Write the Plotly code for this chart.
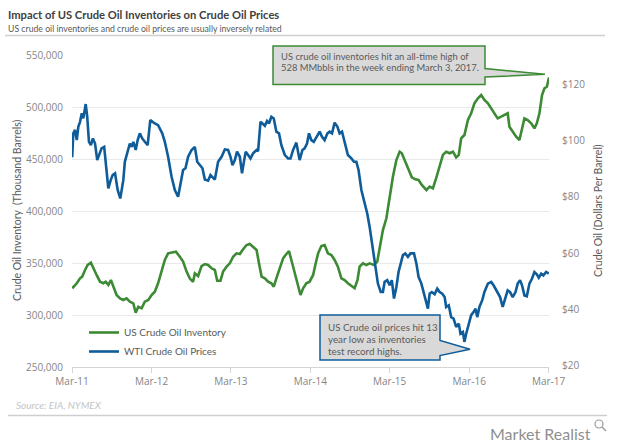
import plotly.graph_objects as go

# ---------------- data ----------------
inv_dates = [
    "2011-03-02", "2011-03-23", "2011-04-07", "2011-04-17", "2011-04-30", "2011-05-12", "2011-05-27",
    "2011-06-07", "2011-06-22", "2011-07-08", "2011-07-23", "2011-08-03", "2011-08-15", "2011-08-27",
    "2011-09-07", "2011-09-22", "2011-10-08", "2011-10-23", "2011-11-07", "2011-11-22", "2011-12-08",
    "2011-12-19", "2011-12-31", "2012-01-15", "2012-01-30", "2012-02-15", "2012-03-01", "2012-03-16",
    "2012-03-31", "2012-04-16", "2012-05-01", "2012-05-16", "2012-06-01", "2012-06-21", "2012-07-09",
    "2012-07-24", "2012-08-09", "2012-08-24", "2012-09-08", "2012-09-16", "2012-10-01", "2012-10-17",
    "2012-11-01", "2012-11-16", "2012-12-02", "2012-12-17", "2012-12-28", "2013-01-12", "2013-01-24",
    "2013-02-09", "2013-02-24", "2013-03-11", "2013-03-27", "2013-04-11", "2013-04-26", "2013-05-12",
    "2013-05-27", "2013-06-11", "2013-06-27", "2013-07-08", "2013-07-20", "2013-08-04", "2013-08-19",
    "2013-09-03", "2013-09-14", "2013-09-26", "2013-10-12", "2013-10-27", "2013-11-11", "2013-11-23",
    "2013-12-04", "2013-12-19", "2014-01-04", "2014-01-15", "2014-01-27", "2014-02-11", "2014-02-26",
    "2014-03-14", "2014-03-26", "2014-04-06", "2014-04-21", "2014-05-06", "2014-05-21", "2014-06-06",
    "2014-06-21", "2014-07-06", "2014-07-22", "2014-08-06", "2014-08-21", "2014-09-06", "2014-09-21",
    "2014-10-04", "2014-10-14", "2014-10-29", "2014-11-14", "2014-11-29", "2014-12-19", "2015-01-03",
    "2015-01-14", "2015-01-29", "2015-02-14", "2015-03-01", "2015-03-16", "2015-04-01", "2015-04-16",
    "2015-04-26", "2015-05-12", "2015-05-27", "2015-06-11", "2015-06-27", "2015-07-12", "2015-07-27",
    "2015-08-17", "2015-09-01", "2015-09-16", "2015-10-01", "2015-10-17", "2015-11-01", "2015-11-16",
    "2015-12-02", "2015-12-17", "2016-01-01", "2016-01-13", "2016-01-24", "2016-02-08", "2016-02-24",
    "2016-03-10", "2016-03-25", "2016-04-10", "2016-04-25", "2016-05-10", "2016-05-26", "2016-06-10",
    "2016-06-25", "2016-07-10", "2016-07-26", "2016-08-10", "2016-08-25", "2016-09-02", "2016-09-17",
    "2016-10-03", "2016-10-18", "2016-10-31", "2016-11-10", "2016-11-25", "2016-12-11", "2016-12-26",
    "2017-01-06", "2017-01-18", "2017-01-30", "2017-02-10", "2017-02-21", "2017-03-03",
]
inv_values = [
    325700, 330500, 335300, 336900, 343300, 348100, 350300,
    344900, 338500, 332000, 330500, 332000, 328900, 333600,
    327200, 319200, 316000, 314400, 316000, 312800, 311200,
    302200, 308000, 306400, 312800, 314400, 319200, 322400,
    330500, 341700, 352900, 359300, 360300, 360900, 356000,
    351300, 341700, 335000, 332000, 340100, 337500, 347100,
    349000, 348100, 344900, 343300, 333000, 333000, 341700,
    346500, 349700, 356000, 359300, 358700, 363200, 367300,
    368300, 365700, 362500, 349700, 336900, 335300, 332000,
    330500, 327200, 335300, 346500, 354500, 358700, 361500,
    352900, 340100, 327200, 319200, 325700, 330500, 332000,
    338500, 349700, 359300, 366300, 367300, 359300, 357700,
    352900, 346500, 335300, 333600, 330500, 327900, 325700,
    333600, 346500, 349700, 348100, 349700, 348100, 351300,
    365700, 381700, 393000, 413800, 433000, 449000, 457000,
    455500, 447400, 441000, 432400, 430500, 429800, 425000,
    420200, 423400, 421800, 431500, 442000, 453900, 457000,
    455500, 457000, 451600, 453900, 469900, 473100, 487500,
    493900, 503600, 508400, 511500, 506700, 503600, 498700,
    493900, 489100, 490700, 492300, 493900, 481100, 476300,
    471400, 468300, 479500, 489100, 487500, 484300, 479500,
    484300, 493900, 511500, 518000, 519500, 528400,
]

wti_dates = [
    "2011-03-02", "2011-03-07", "2011-03-15", "2011-03-23", "2011-03-30", "2011-04-07", "2011-04-15",
    "2011-04-22", "2011-05-03", "2011-05-10", "2011-05-18", "2011-05-27", "2011-06-05", "2011-06-15",
    "2011-06-25", "2011-07-04", "2011-07-15", "2011-07-27", "2011-08-07", "2011-08-15", "2011-08-26",
    "2011-09-04", "2011-09-15", "2011-09-27", "2011-10-09", "2011-10-23", "2011-10-30", "2011-11-12",
    "2011-11-22", "2011-11-30", "2011-12-08", "2011-12-19", "2011-12-28", "2012-01-07", "2012-01-18",
    "2012-01-30", "2012-02-12", "2012-02-24", "2012-03-04", "2012-03-16", "2012-03-31", "2012-04-11",
    "2012-04-19", "2012-05-01", "2012-05-16", "2012-06-01", "2012-06-16", "2012-07-01", "2012-07-14",
    "2012-07-24", "2012-08-04", "2012-08-16", "2012-09-01", "2012-09-16", "2012-09-27", "2012-10-09",
    "2012-10-21", "2012-11-01", "2012-11-16", "2012-11-27", "2012-12-09", "2012-12-17", "2013-01-01",
    "2013-01-17", "2013-02-01", "2013-02-16", "2013-02-27", "2013-03-08", "2013-03-19", "2013-03-29",
    "2013-04-11", "2013-04-21", "2013-05-01", "2013-05-08", "2013-05-19", "2013-05-30", "2013-06-11",
    "2013-06-27", "2013-07-04", "2013-07-15", "2013-07-24", "2013-08-04", "2013-08-14", "2013-08-23",
    "2013-09-03", "2013-09-14", "2013-09-26", "2013-10-08", "2013-10-19", "2013-11-04", "2013-11-19",
    "2013-11-30", "2013-12-12", "2013-12-27", "2014-01-11", "2014-01-24", "2014-02-03", "2014-02-14",
    "2014-02-23", "2014-03-06", "2014-03-17", "2014-03-29", "2014-04-13", "2014-04-24", "2014-05-06",
    "2014-05-19", "2014-05-29", "2014-06-09", "2014-06-21", "2014-07-04", "2014-07-14", "2014-07-25",
    "2014-08-06", "2014-08-21", "2014-09-06", "2014-09-18", "2014-09-29", "2014-10-09", "2014-10-22",
    "2014-11-06", "2014-11-18", "2014-11-29", "2014-12-10", "2014-12-19", "2014-12-30", "2015-01-06",
    "2015-01-19", "2015-01-29", "2015-02-06", "2015-02-18", "2015-03-01", "2015-03-11", "2015-03-21",
    "2015-04-01", "2015-04-11", "2015-04-20", "2015-05-01", "2015-05-12", "2015-05-24", "2015-06-05",
    "2015-06-21", "2015-07-02", "2015-07-12", "2015-07-25", "2015-08-09", "2015-08-24", "2015-09-01",
    "2015-09-11", "2015-09-24", "2015-10-06", "2015-10-17", "2015-10-29", "2015-11-09", "2015-11-16",
    "2015-11-28", "2015-12-09", "2015-12-20", "2016-01-01", "2016-01-13", "2016-01-21", "2016-02-01",
    "2016-02-08", "2016-02-16", "2016-02-28", "2016-03-10", "2016-03-21", "2016-03-30", "2016-04-07",
    "2016-04-17", "2016-04-30", "2016-05-10", "2016-05-26", "2016-06-10", "2016-06-21", "2016-06-30",
    "2016-07-11", "2016-07-21", "2016-08-02", "2016-08-15", "2016-08-25", "2016-09-05", "2016-09-17",
    "2016-09-30", "2016-10-10", "2016-10-21", "2016-10-30", "2016-11-10", "2016-11-21", "2016-12-03",
    "2016-12-15", "2016-12-26", "2017-01-06", "2017-01-15", "2017-01-26", "2017-02-05", "2017-02-18",
    "2017-03-02",
]
wti_values = [
    94.0, 102.5, 103.7, 100.1, 104.8, 106.6, 109.6,
    107.8, 112.9, 108.4, 99.5, 98.3, 100.7, 98.9,
    93.0, 94.8, 97.2, 97.7, 89.5, 83.0, 85.9,
    87.7, 88.3, 82.4, 79.4, 85.9, 92.4, 96.6,
    98.9, 97.7, 99.5, 96.6, 100.1, 102.5, 100.7,
    99.5, 98.3, 107.2, 106.6, 106.0, 105.4, 103.7,
    102.5, 99.5, 94.2, 87.1, 82.4, 80.0, 85.9,
    89.5, 90.1, 94.2, 96.6, 97.7, 92.4, 91.2,
    90.1, 86.1, 85.7, 87.7, 86.9, 86.1, 92.4,
    94.2, 96.8, 96.6, 94.2, 91.2, 93.0, 96.0,
    94.2, 88.3, 93.0, 96.0, 94.8, 93.6, 95.4,
    96.6, 96.2, 106.6, 106.0, 105.2, 106.9, 106.0,
    108.4, 107.8, 103.1, 102.5, 98.3, 94.8, 93.6,
    93.6, 96.6, 99.2, 93.0, 96.6, 97.2, 98.9,
    102.5, 100.1, 99.5, 101.3, 103.1, 101.3, 100.1,
    102.5, 103.1, 102.5, 106.3, 104.8, 102.5, 103.1,
    98.9, 94.8, 93.6, 92.4, 92.4, 89.5, 82.4,
    77.6, 74.1, 69.3, 63.4, 58.7, 53.9, 49.2,
    46.2, 46.2, 49.8, 50.4, 48.6, 50.4, 43.9,
    48.0, 53.3, 56.3, 59.3, 59.9, 58.7, 59.9,
    59.9, 56.3, 51.6, 49.2, 44.4, 40.3, 45.6,
    46.2, 45.4, 47.4, 46.2, 45.6, 44.4, 40.9,
    41.5, 37.3, 36.8, 33.8, 35.0, 31.4, 32.0,
    28.5, 31.4, 35.0, 38.0, 39.1, 40.3, 37.3,
    40.9, 43.3, 46.2, 49.2, 49.8, 48.6, 47.4,
    45.6, 44.4, 40.9, 44.4, 46.8, 46.2, 44.4,
    46.2, 49.2, 50.4, 48.6, 45.0, 44.7, 49.2,
    51.0, 53.3, 52.5, 51.3, 52.7, 52.1, 53.3,
    52.7,
]

x_tick_dates = ["2011-03-01", "2012-03-01", "2013-03-01", "2014-03-01",
                "2015-03-01", "2016-03-01", "2017-03-01"]
x_tick_labels = ["Mar-11", "Mar-12", "Mar-13", "Mar-14", "Mar-15", "Mar-16", "Mar-17"]
inv_ticks = [250000, 300000, 350000, 400000, 450000, 500000, 550000]
price_ticks = [20, 40, 60, 80, 100, 120]
price_labels = ["$20", "$40", "$60", "$80", "$100", "$120"]

# ---------------- style ----------------
GREEN = "#3c8a34"
BLUE = "#0e5c9a"
FONT = "Lato, Open Sans, sans-serif"
TICKFONT = "Open Sans, Lato, sans-serif"
TICK_GRAY = "#858585"
TEXT_GRAY = "#595959"

W, H = 620, 445
L, R, T, B = 72, 71, 55, 78
PW, PH = W - L - R, H - T - B


def px(xp):
    return (xp - L) / PW


def py(yp):
    return (H - B - yp) / PH


fig = go.Figure()
fig.add_trace(go.Scatter(x=inv_dates, y=inv_values, name="US Crude Oil Inventory",
                         mode="lines", line=dict(color=GREEN, width=2.6), yaxis="y"))
fig.add_trace(go.Scatter(x=wti_dates, y=wti_values, name="WTI Crude Oil Prices",
                         mode="lines", line=dict(color=BLUE, width=2.6), yaxis="y2"))

fig.update_layout(
    width=W, height=H,
    margin=dict(l=L, r=R, t=T, b=B),
    paper_bgcolor="white", plot_bgcolor="white",
    font=dict(family=FONT, color=TEXT_GRAY, size=11),
    showlegend=True,
    legend=dict(x=px(84), y=py(318), xanchor="left", yanchor="top",
                bgcolor="rgba(0,0,0,0)", font=dict(size=10, color=TEXT_GRAY, family=FONT),
                itemwidth=30, tracegroupgap=0),
    xaxis=dict(type="date", range=["2011-03-01", "2017-03-03"],
               tickvals=x_tick_dates, ticktext=x_tick_labels,
               showgrid=False, zeroline=False,
               showline=True, linecolor="#d4d4d4", linewidth=1,
               ticks="outside", ticklen=5, tickcolor="#d4d4d4",
               tickfont=dict(size=10, color=TICK_GRAY, family=TICKFONT)),
    yaxis=dict(range=[250000, 550000], tickvals=inv_ticks, tickformat=",",
               showgrid=True, gridcolor="#e9e9e9", gridwidth=1,
               zeroline=False, showline=False, ticks="",
               ticklabelstandoff=8,
               tickfont=dict(size=10, color=TICK_GRAY, family=TICKFONT)),
    yaxis2=dict(range=[19.6, 130.3], tickvals=price_ticks, ticktext=price_labels,
                overlaying="y", side="right", showgrid=False, zeroline=False,
                showline=False, ticks="", ticklabelstandoff=12,
                tickfont=dict(size=10, color=TICK_GRAY, family=TICKFONT)),
)

shapes = []
# header and footer rules
shapes.append(dict(type="line", xref="paper", yref="paper", x0=px(5), x1=px(605),
                   y0=py(35.5), y1=py(35.5), line=dict(color="#cfcfcf", width=1.5)))
shapes.append(dict(type="line", xref="paper", yref="paper", x0=px(8), x1=px(607),
                   y0=py(415.5), y1=py(415.5), line=dict(color="#cfcfcf", width=1.5)))
# callout 1 (inventory high)
c1 = [(273, 46), (485, 46), (485, 68.5), (545, 74.3), (485, 77), (485, 84.5), (273, 84.5)]
shapes.append(dict(type="path", xref="paper", yref="paper", layer="above",
                   path="M " + " L ".join(f"{px(a):.4f},{py(b):.4f}" for a, b in c1) + " Z",
                   fillcolor="#d9d9d9", line=dict(color=GREEN, width=1.5)))
# callout 2 (price low)
c2 = [(320, 315), (440, 315), (440, 340.5), (470, 349.3), (440, 355.5), (440, 360), (320, 360)]
shapes.append(dict(type="path", xref="paper", yref="paper", layer="above",
                   path="M " + " L ".join(f"{px(a):.4f},{py(b):.4f}" for a, b in c2) + " Z",
                   fillcolor="#d9d9d9", line=dict(color=BLUE, width=1.5)))
# logo magnifier
shapes.append(dict(type="circle", xref="paper", yref="paper",
                   x0=px(595), x1=px(603), y0=py(420), y1=py(428),
                   line=dict(color="#9a9a9a", width=1.2)))
shapes.append(dict(type="line", xref="paper", yref="paper",
                   x0=px(602), x1=px(606), y0=py(427), y1=py(431),
                   line=dict(color="#9a9a9a", width=1.5)))
fig.update_layout(shapes=shapes)

ann = []


def txt(text, xp, yp, size, color, xanchor="left", **kw):
    ann.append(dict(text=text, xref="paper", yref="paper", x=px(xp), y=py(yp),
                    xanchor=xanchor, yanchor="middle", showarrow=False,
                    font=dict(size=size, color=color, family=FONT), **kw))


txt("<b>Impact of US Crude Oil Inventories on Crude Oil Prices</b>", 6, 14, 11.2, "#404040")
txt("US crude oil inventories and crude oil prices are usually inversely related", 6, 28, 8.7, TEXT_GRAY)
txt("US crude oil inventories hit an all-time high of", 279, 56, 9.4, TEXT_GRAY)
txt("528 MMbbls in the week ending March 3, 2017.", 279, 67.5, 9.4, TEXT_GRAY)
txt("US Crude oil prices hit 13", 326, 326.5, 9.8, TEXT_GRAY)
txt("year low as inventories", 326, 338.5, 9.8, TEXT_GRAY)
txt("test record highs.", 326, 350.5, 9.8, TEXT_GRAY)
txt("<i>Source: EIA, NYMEX</i>", 14, 405, 10, "#c4c4c4")
txt("Market Realist", 593, 433, 16, "#8f8f8f", xanchor="right")
txt("Crude Oil Inventory  (Thousand Barrels)", 17, 211, 10.5, TEXT_GRAY,
    xanchor="center", textangle=-90)
txt("Crude Oil (Dollars Per Barrel)", 598, 211, 10.5, TEXT_GRAY,
    xanchor="center", textangle=-90)
fig.update_layout(annotations=ann)

fig.write_html("out.html", config={"displayModeBar": False},
               post_script="document.body.style.margin='0px';")
